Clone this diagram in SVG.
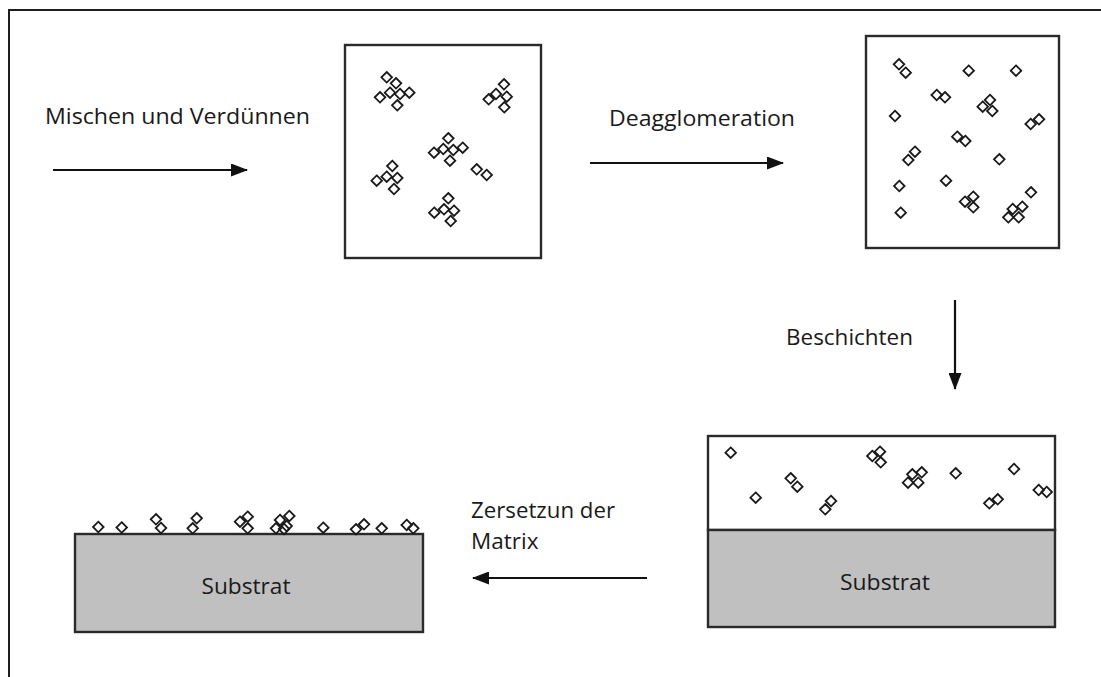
<svg xmlns="http://www.w3.org/2000/svg" xmlns:xlink="http://www.w3.org/1999/xlink" width="1101" height="677" viewBox="0 0 1101 677">
<style>
.frame{fill:none;stroke:#1e1e1e;stroke-width:2}
.box{fill:#fff;stroke:#2a2a2a;stroke-width:2.4}
.sub{fill:#c0c0c0;stroke:#2a2a2a;stroke-width:2.4}
.lbl{font-family:"Open Sans","Liberation Sans",sans-serif;font-size:22.5px;fill:#1a1a1a}
.conn{stroke:#111;stroke-width:2.2;fill:none}
.p{fill:none;stroke:#1a1a1a;stroke-width:1.8}
</style>
<defs>
<path id="d" d="M0,-5.3 L5.3,0 L0,5.3 L-5.3,0 Z"/>
<marker id="ah" markerWidth="17" markerHeight="13" refX="16" refY="6.5" orient="auto" markerUnits="userSpaceOnUse">
<path d="M0,0 L17,6.5 L0,13 Z" fill="#111"/>
</marker>
</defs>
<rect width="1101" height="677" fill="#fff"/>
<path class="frame" d="M9,677 L9,10 L1101,10"/>

<g id="connectors">
<line class="conn" x1="53" y1="170" x2="247" y2="170" marker-end="url(#ah)"/>
<line class="conn" x1="590" y1="163" x2="783" y2="163" marker-end="url(#ah)"/>
<line class="conn" x1="955" y1="300" x2="955" y2="389" marker-end="url(#ah)"/>
<line class="conn" x1="647" y1="578" x2="473" y2="578" marker-end="url(#ah)"/>
</g>

<g id="labels">
<text class="lbl" x="45" y="124" textLength="265" lengthAdjust="spacingAndGlyphs">Mischen und Verdünnen</text>
<text class="lbl" x="609" y="126" textLength="186" lengthAdjust="spacingAndGlyphs">Deagglomeration</text>
<text class="lbl" x="786" y="345" textLength="127" lengthAdjust="spacingAndGlyphs">Beschichten</text>
<text class="lbl" x="471" y="518" textLength="144" lengthAdjust="spacingAndGlyphs">Zersetzun der</text>
<text class="lbl" x="471" y="549">Matrix</text>
</g>

<g id="mixed">
<rect class="box" x="345" y="45" width="196" height="213"/>
<g class="p">
<use xlink:href="#d" x="386.7" y="77.3"/><use xlink:href="#d" x="396" y="83.3"/><use xlink:href="#d" x="390" y="92.7"/><use xlink:href="#d" x="400" y="94"/><use xlink:href="#d" x="380" y="97.3"/><use xlink:href="#d" x="409.3" y="92.7"/><use xlink:href="#d" x="397.3" y="105.3"/>
<use xlink:href="#d" x="504" y="84.3"/><use xlink:href="#d" x="496" y="94"/><use xlink:href="#d" x="506.7" y="96.7"/><use xlink:href="#d" x="488.7" y="99.3"/><use xlink:href="#d" x="504.3" y="107.3"/>
<use xlink:href="#d" x="448.3" y="138.3"/><use xlink:href="#d" x="434" y="152.7"/><use xlink:href="#d" x="443.3" y="149"/><use xlink:href="#d" x="453.3" y="150"/><use xlink:href="#d" x="462.7" y="147.7"/><use xlink:href="#d" x="450" y="160.7"/>
<use xlink:href="#d" x="476.7" y="169.3"/><use xlink:href="#d" x="486.7" y="175"/>
<use xlink:href="#d" x="392.3" y="166"/><use xlink:href="#d" x="376.7" y="180.7"/><use xlink:href="#d" x="386.7" y="176.7"/><use xlink:href="#d" x="397.3" y="178"/><use xlink:href="#d" x="394" y="189"/>
<use xlink:href="#d" x="448.3" y="198.3"/><use xlink:href="#d" x="434.3" y="212.7"/><use xlink:href="#d" x="444" y="209.3"/><use xlink:href="#d" x="454" y="210.7"/><use xlink:href="#d" x="450.7" y="221"/>
</g>
</g>

<g id="deagglomerated">
<rect class="box" x="866" y="36" width="193" height="212"/>
<g class="p">
<use xlink:href="#d" x="899" y="64.3"/><use xlink:href="#d" x="905.7" y="72.7"/>
<use xlink:href="#d" x="968.7" y="70.7"/>
<use xlink:href="#d" x="1016" y="70.7"/>
<use xlink:href="#d" x="936.7" y="95"/><use xlink:href="#d" x="945" y="97.3"/>
<use xlink:href="#d" x="990" y="100"/><use xlink:href="#d" x="982.7" y="106.7"/><use xlink:href="#d" x="992.3" y="111"/>
<use xlink:href="#d" x="895" y="116"/>
<use xlink:href="#d" x="1030.7" y="124"/><use xlink:href="#d" x="1039" y="119.3"/>
<use xlink:href="#d" x="957.3" y="136.7"/><use xlink:href="#d" x="965.3" y="141"/>
<use xlink:href="#d" x="915" y="151.7"/><use xlink:href="#d" x="908.3" y="160"/>
<use xlink:href="#d" x="999.3" y="159.3"/>
<use xlink:href="#d" x="899.3" y="186"/>
<use xlink:href="#d" x="946" y="180.7"/>
<use xlink:href="#d" x="1031" y="192.3"/>
<use xlink:href="#d" x="973.3" y="196.7"/><use xlink:href="#d" x="965" y="201.7"/><use xlink:href="#d" x="973.3" y="207.3"/>
<use xlink:href="#d" x="900.7" y="212.7"/>
<use xlink:href="#d" x="1022.3" y="206.7"/><use xlink:href="#d" x="1012.7" y="209"/><use xlink:href="#d" x="1008.3" y="217.3"/><use xlink:href="#d" x="1018.7" y="217.3"/>
</g>
</g>

<g id="coated">
<rect class="box" x="708" y="436" width="347" height="94"/>
<rect class="sub" x="708" y="530" width="347" height="97"/>
<text class="lbl" x="885" y="590" text-anchor="middle" textLength="90" lengthAdjust="spacingAndGlyphs">Substrat</text>
<g class="p">
<use xlink:href="#d" x="730.7" y="452.7"/>
<use xlink:href="#d" x="755.7" y="497.7"/>
<use xlink:href="#d" x="790.7" y="478.3"/><use xlink:href="#d" x="797.3" y="486.7"/>
<use xlink:href="#d" x="831" y="501"/><use xlink:href="#d" x="825.3" y="509.3"/>
<use xlink:href="#d" x="872.3" y="456"/><use xlink:href="#d" x="880" y="451.7"/><use xlink:href="#d" x="880.7" y="462.3"/>
<use xlink:href="#d" x="912.3" y="474.3"/><use xlink:href="#d" x="921.7" y="472.3"/><use xlink:href="#d" x="908" y="482.7"/><use xlink:href="#d" x="918.3" y="482.7"/>
<use xlink:href="#d" x="955.7" y="473.3"/>
<use xlink:href="#d" x="1014" y="469"/>
<use xlink:href="#d" x="989.3" y="503.3"/><use xlink:href="#d" x="997.7" y="499.3"/>
<use xlink:href="#d" x="1038.7" y="490"/><use xlink:href="#d" x="1046.7" y="492"/>
</g>
</g>

<g id="final">
<rect class="sub" x="75" y="534" width="348" height="98"/>
<text class="lbl" x="246" y="594" text-anchor="middle" textLength="89" lengthAdjust="spacingAndGlyphs">Substrat</text>
<g class="p">
<use xlink:href="#d" x="98.3" y="527"/>
<use xlink:href="#d" x="121.7" y="527.5"/>
<use xlink:href="#d" x="156" y="519.3"/><use xlink:href="#d" x="161" y="528"/>
<use xlink:href="#d" x="196.7" y="518.3"/><use xlink:href="#d" x="192.7" y="528.3"/>
<use xlink:href="#d" x="240" y="521.7"/><use xlink:href="#d" x="247.7" y="516.7"/><use xlink:href="#d" x="247.7" y="528.3"/>
<use xlink:href="#d" x="289.3" y="516"/><use xlink:href="#d" x="280" y="520"/><use xlink:href="#d" x="286.7" y="526"/><use xlink:href="#d" x="276" y="528.3"/><use xlink:href="#d" x="284" y="529"/>
<use xlink:href="#d" x="323.3" y="527.7"/>
<use xlink:href="#d" x="356" y="529.3"/><use xlink:href="#d" x="364" y="524.3"/>
<use xlink:href="#d" x="381.7" y="528.3"/>
<use xlink:href="#d" x="406.7" y="525"/><use xlink:href="#d" x="413.3" y="528.3"/>
</g>
</g>
</svg>
